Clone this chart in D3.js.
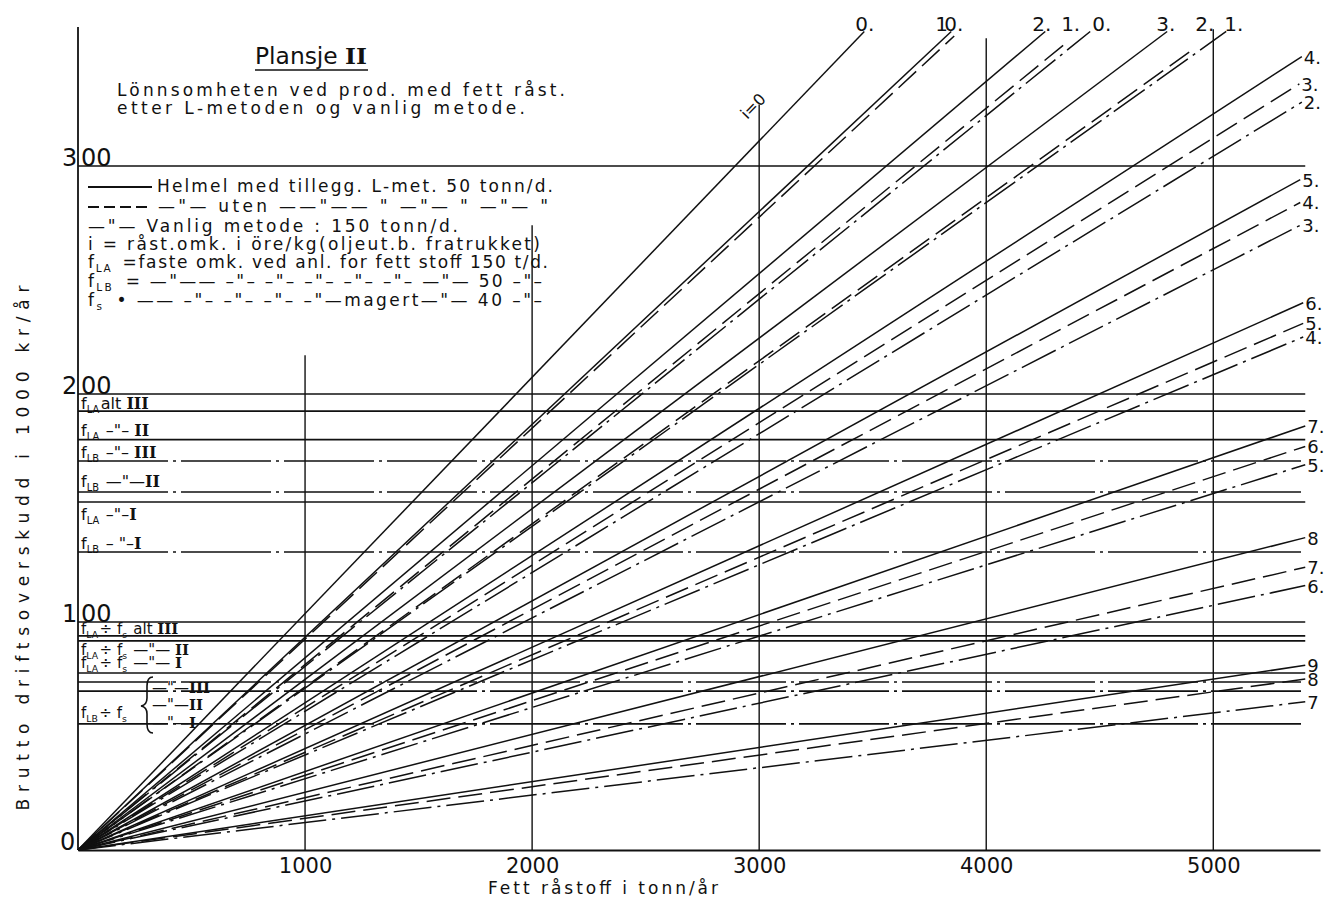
<!DOCTYPE html>
<html>
<head>
<meta charset="utf-8">
<script src="https://cdn.jsdelivr.net/npm/d3@7"></script>
<style>
  body { margin: 0; background: #fff; }
  text { font-family: "DejaVu Sans", sans-serif; fill: #111; }
</style>
</head>
<body>
<div id="plate"></div>
<script>
"use strict";

const xTicks = [1000, 2000, 3000, 4000, 5000];
const yTicks = [0, 100, 200, 300];
const gridTop = [217, 274, 327, 356, 360];   // where each vertical rule stops

// i-values and end points of the rays from the origin
const solidLabels = ["0.", "1", "2.", "3.", "4.", "5.", "6.", "7.", "8", "9"];
const solidEndX = [3463, 3846, 4260, 4797, 5390, 5383, 5396, 5405, 5405, 5405];
const solidEndY = [359, 359, 359, 359, 348, 294, 240, 186, 137, 81];

const dashLabels = ["0.", "1.", "2.", "3.", "4.", "5.", "6.", "7.", "8"];
const dashEndX = [3859, 4352, 4894, 5379, 5383, 5396, 5405, 5405, 5405];
const dashEndY = [357, 354, 350, 336, 284, 231, 177, 124, 75];

const dotLabels = ["0.", "1.", "2.", "3.", "4.", "5.", "6.", "7"];
const dotEndX = [4458, 5057, 5390, 5383, 5396, 5405, 5405, 5405];
const dotEndY = [359, 359, 328, 274, 225, 169, 116, 65];

// fixed-cost levels (A = f_LA type, B = f_LB type, g = grid)
const levelValues = [300, 200, 192.5, 180, 170.6, 157, 152.6, 130.7, 100, 93.9, 91.7, 77.6, 73.7, 69.7, 55.3];
const levelKinds  = ["g", "g", "A", "A", "B", "B", "A", "B", "g", "A", "A", "A", "B", "B", "B"];

const levelLabels = [
  "f_{LA}alt [III]", "f_{LA} –\"–  [II]", "f_{LB} –\"– [III]", "f_{LB} —\"—[II]",
  "f_{LA} –\"–[I]", "f_{LB} – \"–[I]", "f_{LA}÷ f_{s} alt [III]", "f_{LA}÷ f_{s} —\"— [II]",
  "f_{LA}÷ f_{s} —\"— [I]", "—\"—[III]", "—\"—[II]", "—\"—[I]", "f_{LB}÷ f_{s}"
];
const levelLabelAt = [193.6, 181.6, 171.9, 159.2, 144.7, 132, 94.8, 85.5, 79.8, 68.9, 61.4, 53.5, 57.9];

// ---------------------------------------------------------------
const W = 1326, H = 899;
const svg = d3.select("#plate").append("svg")
  .attr("width", W).attr("height", H)
  .attr("viewBox", "0 0 " + W + " " + H);

const x = d3.scaleLinear().domain([0, 5470]).range([78, 1320]),
      y = d3.scaleLinear().domain([0, 300]).range([850, 166]);

const ink = "#111";
const dashes = { solid: null, dash: "24,8", dot: "38,6,3,6" };

// text helper: f_{LA} -> subscript, [III] -> roman numeral
function rich(sel, spec) {
  spec.split(/(_\{[^}]*\}|\[[^\]]*\])/).forEach(function(part) {
    if (!part) return;
    if (part[0] === "_") {
      sel.append("tspan").attr("font-size", "0.62em").attr("dy", 4).text(part.slice(2, -1));
      sel.append("tspan").attr("dy", -4).text("\u200A");
    } else if (part[0] === "[") {
      sel.append("tspan").attr("font-family", "DejaVu Serif").attr("font-weight", "bold")
        .text(part.slice(1, -1));
    } else {
      sel.append("tspan").text(part);
    }
  });
  return sel;
}

// x axis (base line) and vertical rules
svg.append("g")
  .attr("transform", "translate(0," + y(0) + ")")
  .call(d3.axisBottom(x).tickValues(xTicks).tickSize(0).tickSizeOuter(0).tickPadding(8)
    .tickFormat(d3.format("d")))
  .call(function(g) {
    g.select(".domain").attr("stroke", ink).attr("stroke-width", 2.2);
    g.selectAll("text").attr("font-size", 21).attr("fill", ink)
      .style("font-family", "DejaVu Sans");
  });

svg.append("g").selectAll("line")
  .data(xTicks)
  .join("line")
    .attr("x1", function(d) { return x(d); })
    .attr("x2", function(d) { return x(d); })
    .attr("y1", y(0))
    .attr("y2", function(d, i) { return y(gridTop[i]); })
    .attr("stroke", ink).attr("stroke-width", 1.4);

// y axis
svg.append("line")
  .attr("x1", x(0)).attr("x2", x(0))
  .attr("y1", y(0)).attr("y2", y(361))
  .attr("stroke", ink).attr("stroke-width", 1.8);

svg.append("g").selectAll("text")
  .data(yTicks)
  .join("text")
    .attr("font-size", 24)
    .attr("y", function(d) { return y(d); })
    .each(function(d) {
      const t = d3.select(this), s = String(d);
      if (d === 0) {
        t.append("tspan").attr("x", x(0) - 18).text(s);
      } else {
        t.append("tspan").attr("x", x(0) - 16).text(s[0]);
        t.append("tspan").attr("x", x(0) + 3).text(s.slice(1));
      }
    });

// horizontal cost levels
svg.append("g").selectAll("line")
  .data(levelValues)
  .join("line")
    .attr("x1", x(0))
    .attr("x2", x(5405))
    .attr("y1", function(d) { return y(d); })
    .attr("y2", function(d) { return y(d); })
    .attr("stroke", ink)
    .attr("stroke-width", 1.6)
    .attr("stroke-dasharray", function(d, i) { return levelKinds[i] === "B" ? "90,5,3,5" : null; });

svg.append("g").selectAll("text")
  .data(levelLabels)
  .join("text")
    .attr("x", function(d, i) { return i >= 9 && i <= 11 ? 152 : 81; })
    .attr("y", function(d, i) { return y(levelLabelAt[i]); })
    .attr("font-size", function(d, i) { return i >= 6 ? 15 : 16; })
    .each(function(d) { rich(d3.select(this), d); });

// brace for f_LB ÷ f_s group
svg.append("path")
  .attr("d", "M153,677 Q147,677 147,686 L147,698 Q147,705 141,706 Q147,707 147,714 L147,724 Q147,733 153,733")
  .attr("fill", "none").attr("stroke", ink).attr("stroke-width", 1.6);

// rays from origin
function rays(endX, endY, labels, kind, topDx) {
  const g = svg.append("g");
  const pts = endX.map(function(v, i) { return [[0, 0], [v, endY[i]]]; });
  const line = d3.line().x(function(p) { return x(p[0]); }).y(function(p) { return y(p[1]); });
  g.selectAll("path")
    .data(pts)
    .join("path")
      .attr("d", line)
      .attr("fill", "none")
      .attr("stroke", ink)
      .attr("stroke-width", 1.5)
      .attr("stroke-dasharray", dashes[kind]);
  const atTop = function(i) { return endY[i] >= 349.5; };
  g.selectAll("text")
    .data(labels)
    .join("text")
      .attr("font-size", function(d, i) { return atTop(i) ? 20 : 18; })
      .attr("x", function(d, i) {
        const px = x(endX[i]);
        return atTop(i) ? px + topDx[i] : px + 2;
      })
      .attr("y", function(d, i) {
        return atTop(i) ? 31 : y(endY[i]) + 7;
      })
      .text(function(d) { return d; });
}
rays(solidEndX, solidEndY, solidLabels, "solid", [-9, -16, -13, -11]);
rays(dashEndX, dashEndY, dashLabels, "dash", [-10, -5, 6]);
rays(dotEndX, dotEndY, dotLabels, "dot", [2, -2]);

svg.append("text")
  .attr("transform", "translate(757,110) rotate(-46)")
  .attr("font-size", 16)
  .attr("text-anchor", "middle")
  .text("i=0");

// title block
svg.append("text").attr("x", 255).attr("y", 64).attr("font-size", 23)
  .attr("textLength", 112).attr("lengthAdjust", "spacingAndGlyphs")
  .call(rich, "Plansje [II]");
svg.append("line").attr("x1", 255).attr("x2", 368).attr("y1", 70).attr("y2", 70)
  .attr("stroke", ink).attr("stroke-width", 1.6);

svg.append("text").attr("x", 117).attr("y", 96).attr("font-size", 17)
  .attr("textLength", 448).attr("lengthAdjust", "spacing")
  .text("Lönnsomheten ved prod. med fett råst.");
svg.append("text").attr("x", 117).attr("y", 114).attr("font-size", 17)
  .attr("textLength", 408).attr("lengthAdjust", "spacing")
  .text("etter L-metoden og vanlig metode.");

// key
const keyRows = [
  { y: 192, x: 157, len: 396, s: "Helmel med tillegg. L-met. 50 tonn/d." },
  { y: 212, x: 158, len: 390, s: "—\"—   uten   ——\"——   \" —\"—    \"    —\"— \"" },
  { y: 232, x: 88,  len: 370, s: "—\"— Vanlig metode : 150 tonn/d." },
  { y: 250, x: 88,  len: 452, s: "i = råst.omk. i öre/kg(oljeut.b.  fratrukket)" },
  { y: 268, x: 88,  len: 460, s: "f_{LA} =faste  omk. ved anl. for fett stoff 150 t/d." },
  { y: 287, x: 88,  len: 454, s: "f_{LB} = —\"——  –\"–  –\"–  –\"–  –\"–  –\"–   —\"—   50 –\"–" },
  { y: 306, x: 88,  len: 454, s: "f_{s}  • ——  –\"–  –\"–  –\"–  –\"—magert—\"—   40 –\"–" }
];
const key = svg.append("g");
keyRows.forEach(function(r) {
  key.append("text").attr("x", r.x).attr("y", r.y).attr("font-size", 17)
    .attr("textLength", r.len).attr("lengthAdjust", "spacing")
    .call(rich, r.s);
});
key.append("line").attr("x1", 88).attr("x2", 152).attr("y1", 187).attr("y2", 187)
  .attr("stroke", ink).attr("stroke-width", 1.8);
key.append("line").attr("x1", 88).attr("x2", 150).attr("y1", 207).attr("y2", 207)
  .attr("stroke", ink).attr("stroke-width", 1.8).attr("stroke-dasharray", "11,5");

// axis titles
svg.append("text")
  .attr("transform", "translate(29,548) rotate(-90)")
  .attr("text-anchor", "middle")
  .attr("font-size", 17)
  .attr("textLength", 525).attr("lengthAdjust", "spacing")
  .text("Brutto driftsoverskudd i 1000 kr/år");

svg.append("text")
  .attr("x", 603).attr("y", 894)
  .attr("text-anchor", "middle")
  .attr("font-size", 17)
  .attr("textLength", 230).attr("lengthAdjust", "spacing")
  .text("Fett råstoff i tonn/år");
</script>
</body>
</html>
